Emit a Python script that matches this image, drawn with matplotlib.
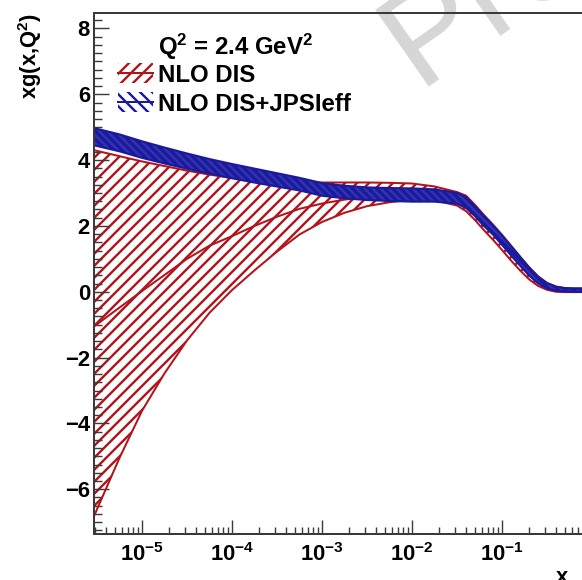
import matplotlib.pyplot as plt
import numpy as np
from matplotlib.lines import Line2D
from matplotlib.patches import Rectangle
from matplotlib.ticker import FuncFormatter, LogLocator, MultipleLocator, NullFormatter

W, H, DPI = 582, 580, 72

# values (log10 of x, then xg values)
log_x = [-5.53, -5.25, -5.0, -4.75, -4.5, -4.25, -4.0, -3.75, -3.5, -3.25, -3.0,
         -2.75, -2.5, -2.25, -2.0, -1.75, -1.5, -1.4, -1.3, -1.2, -1.1, -1.0,
         -0.9, -0.8, -0.7, -0.6, -0.5, -0.4, -0.3, -0.2, -0.1, 0.0]
red_upper = [4.30, 4.12, 3.96, 3.82, 3.68, 3.56, 3.46, 3.38, 3.34, 3.33, 3.32,
             3.32, 3.32, 3.31, 3.29, 3.20, 3.03, 2.92, 2.64, 2.33, 2.04, 1.73,
             1.40, 1.07, 0.75, 0.47, 0.27, 0.16, 0.11, 0.10, 0.10, 0.10]
red_central = [-1.05, -0.48, 0.02, 0.51, 1.00, 1.40, 1.69, 2.00, 2.28, 2.52, 2.68,
               2.80, 2.88, 2.92, 2.95, 2.95, 2.82, 2.70, 2.42, 2.10, 1.82, 1.50,
               1.18, 0.86, 0.56, 0.32, 0.16, 0.08, 0.05, 0.04, 0.04, 0.04]
red_lower = [-6.80, -5.05, -3.62, -2.48, -1.48, -0.64, 0.05, 0.65, 1.22, 1.74, 2.12,
             2.40, 2.60, 2.72, 2.80, 2.78, 2.62, 2.45, 2.18, 1.87, 1.58, 1.27,
             0.95, 0.65, 0.38, 0.18, 0.06, 0.00, -0.01, -0.01, -0.01, -0.01]
blue_upper = [4.97, 4.78, 4.57, 4.38, 4.20, 4.03, 3.88, 3.74, 3.60, 3.46, 3.30,
              3.22, 3.17, 3.15, 3.14, 3.11, 3.00, 2.88, 2.60, 2.30, 2.02, 1.71,
              1.39, 1.06, 0.74, 0.46, 0.26, 0.15, 0.11, 0.10, 0.10, 0.10]
blue_lower = [4.45, 4.27, 4.07, 3.90, 3.74, 3.59, 3.45, 3.32, 3.20, 3.08, 2.92,
              2.84, 2.79, 2.76, 2.74, 2.74, 2.68, 2.55, 2.30, 2.00, 1.74, 1.43,
              1.11, 0.80, 0.50, 0.26, 0.10, 0.03, 0.01, 0.00, 0.00, 0.00]

header = r"Q$^2$ = 2.4 GeV$^2$"
labels = ["NLO DIS", "NLO DIS+JPSIeff"]

RED = "#b3141c"
BLUE = "#1a1a9c"
FRAME = "#3a3a3a"

plt.rcParams["font.family"] = ["Liberation Sans", "DejaVu Sans"]
plt.rcParams["font.weight"] = "bold"
plt.rcParams["mathtext.fontset"] = "custom"
plt.rcParams["mathtext.rm"] = "Liberation Sans:bold"
plt.rcParams["mathtext.it"] = "Liberation Sans:bold"
plt.rcParams["mathtext.bf"] = "Liberation Sans:bold"
plt.rcParams["hatch.linewidth"] = 2.4


def fx(px):
    return px / W


def fy(py):
    return 1 - py / H


def decade_label(v, pos):
    exp = round(np.log10(v))
    if exp >= 0:
        return ""
    return r"$10^{%d}$" % exp


x = 10.0 ** np.array(log_x)

fig = plt.figure(figsize=(W / DPI, H / DPI), dpi=DPI)
ax = fig.add_axes([fx(94), fy(534), 498 / W, 521 / H])

# watermark
ax.text(fx(418), fy(86), "Preliminary", transform=fig.transFigure, rotation=35,
        rotation_mode="anchor", ha="left", va="baseline", fontsize=136,
        fontweight="normal", color="#d6d6d6", zorder=0)

# NLO DIS band
with plt.rc_context({"hatch.color": RED}):
    ax.fill_between(x, red_lower, red_upper, facecolor="none", edgecolor=RED,
                    hatch="//", linewidth=0, zorder=1)
for series in (red_upper, red_central, red_lower):
    ax.plot(x, series, color=RED, lw=2, zorder=2)

# NLO DIS+JPSIeff band
with plt.rc_context({"hatch.color": "#3434b2"}):
    ax.fill_between(x, blue_lower, blue_upper, facecolor=BLUE, edgecolor="#3434b2",
                    hatch="\\\\\\", linewidth=0, zorder=3)
for series in (blue_upper, blue_lower):
    ax.plot(x, series, color=BLUE, lw=2.2, zorder=4)

ax.set_xscale("log")
ax.set_xlim(10 ** -5.533, 1.0)
ax.set_ylim(-7.36, 8.47)

ax.xaxis.set_major_locator(LogLocator(base=10, numticks=20))
ax.xaxis.set_minor_locator(LogLocator(base=10, subs=np.arange(2, 10), numticks=20))
ax.xaxis.set_major_formatter(FuncFormatter(decade_label))
ax.xaxis.set_minor_formatter(NullFormatter())
ax.yaxis.set_major_locator(MultipleLocator(2))
ax.yaxis.set_minor_locator(MultipleLocator(0.25))

ax.tick_params(axis="both", which="both", direction="in", color=FRAME, width=1.4,
               labelsize=22, labelcolor="black")
ax.tick_params(axis="y", which="major", length=15, pad=4)
ax.tick_params(axis="y", which="minor", length=7.5)
ax.tick_params(axis="x", which="major", length=14, pad=9)
ax.tick_params(axis="x", which="minor", length=7)
for spine in ax.spines.values():
    spine.set_color(FRAME)
    spine.set_linewidth(2)
    spine.set_zorder(5)

# axis titles, ROOT style at the ends of the axes
fig.text(fx(30), fy(13), r"xg(x,Q$^2$)", rotation=90, ha="center", va="top", fontsize=22)
fig.text(fx(562), fy(567), "x", ha="center", va="top", fontsize=22)

# legend
fig.text(fx(158), fy(55), header, ha="left", va="baseline", fontsize=24)
for i, (label, color, hatch) in enumerate(zip(labels, [RED, BLUE], ["//", "\\\\"])):
    top = 63 + 29 * i
    with plt.rc_context({"hatch.color": color}):
        box = Rectangle((fx(118), fy(top + 20)), 35 / W, 20 / H, transform=fig.transFigure,
                        facecolor="none", edgecolor=color, hatch=hatch, linewidth=0)
    fig.patches.append(box)
    fig.lines.append(Line2D([fx(118), fx(153)], [fy(top + 10)] * 2, transform=fig.transFigure,
                            color=color, lw=2))
    fig.text(fx(158), fy(top + 19), label, ha="left", va="baseline", fontsize=24)

fig.savefig("out.png", dpi=DPI)
